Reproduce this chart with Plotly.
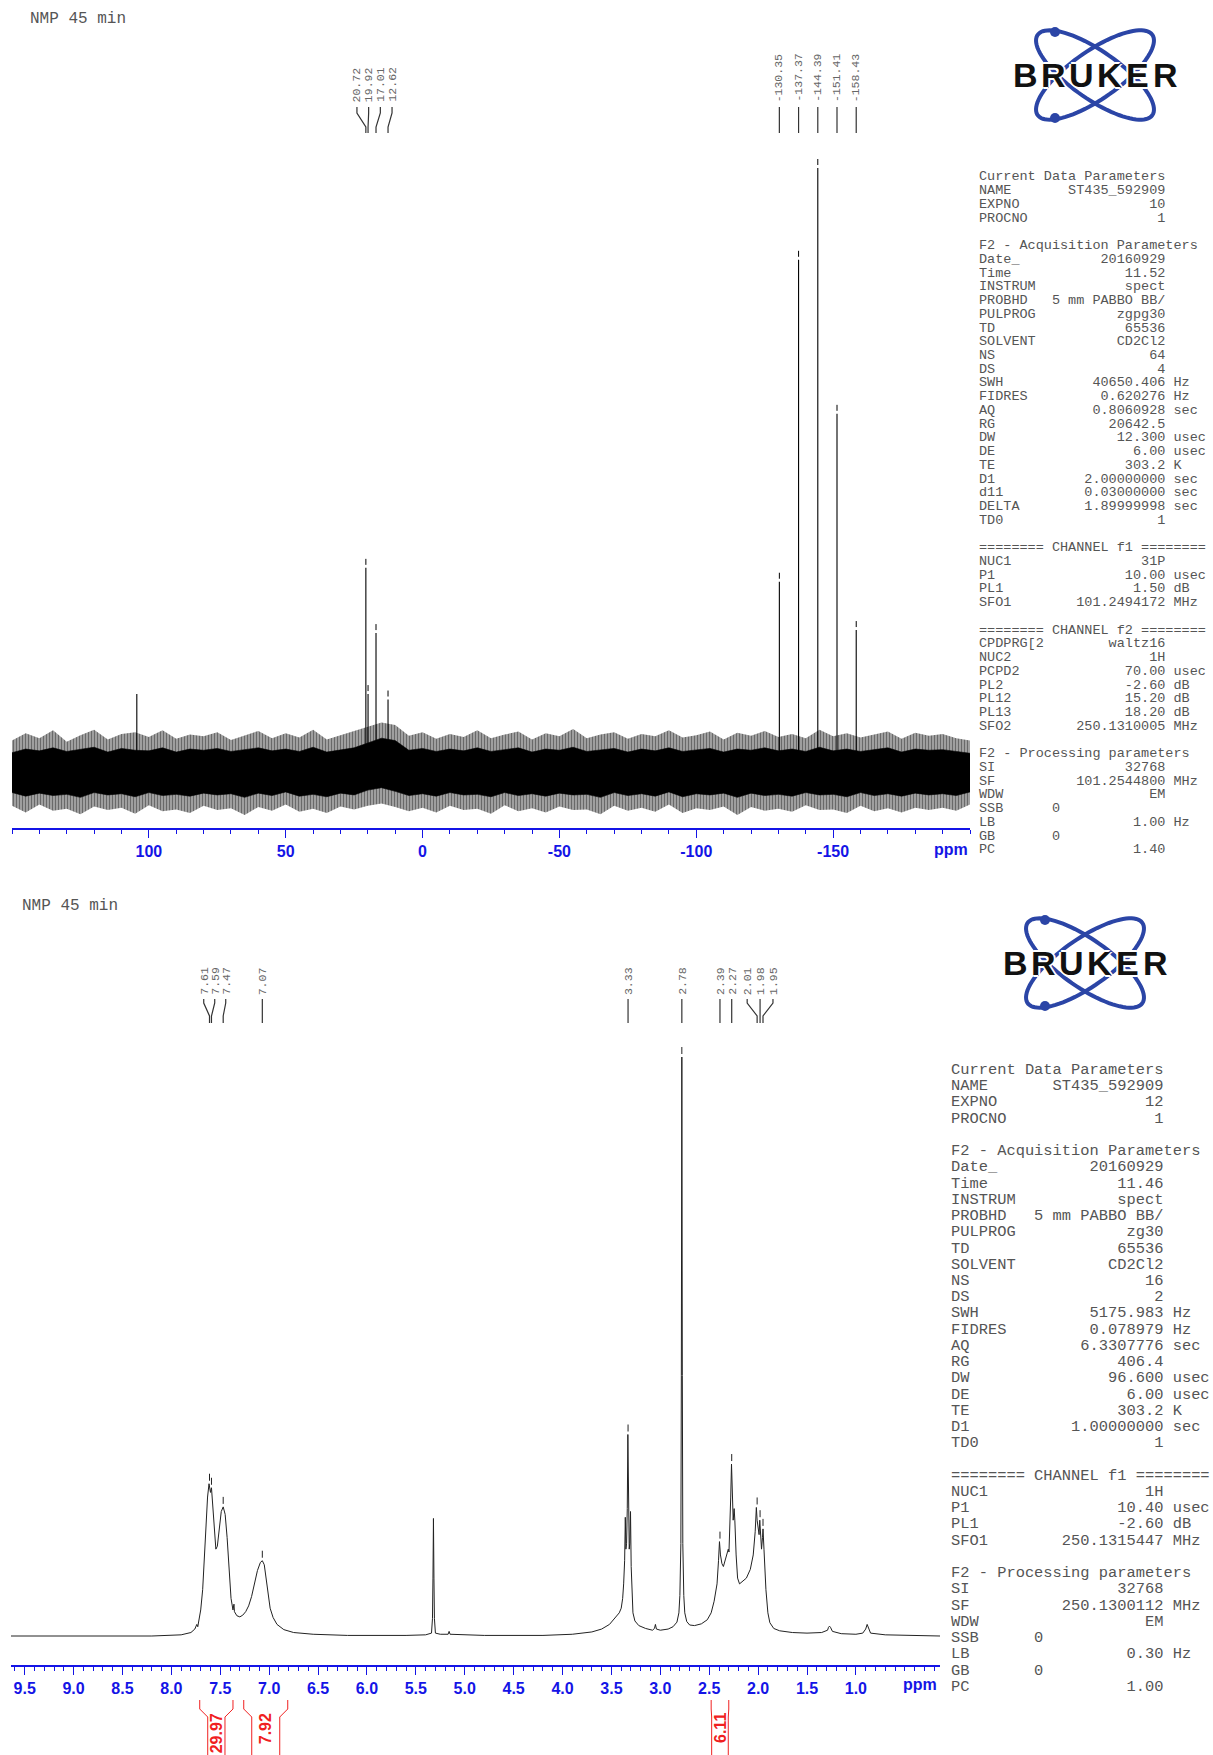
import numpy as np
import plotly.graph_objects as go

W, H = 1213, 1755
BLUE = "#1414e6"
RED = "#f02020"
GREY = "#555555"
MONO = "Liberation Mono, Courier New, monospace"
SANS = "Liberation Sans, Arial, sans-serif"


def xp(px):
    return px / W


def yp(py):
    return 1 - py / H


# ---------------- 31P{1H} spectrum (top) ----------------
p31_peak_ppm = [104.4, 20.72, 19.92, 17.01, 12.62, -130.35, -137.37, -144.39, -151.41, -158.43]
p31_peak_int = [12.9, 33.8, 12.9, 23.0, 12.0, 31.5, 84.8, 100.0, 59.3, 23.5]
p31_left_labels = [20.72, 19.92, 17.01, 12.62]
p31_right_labels = [-130.35, -137.37, -144.39, -151.41, -158.43]

noise_ppm = list(range(150, -201, -5))
noise_outer_hi = [5.2, 6.4, 5.6, 6.9, 5.0, 6.1, 7.0, 5.4, 6.3, 6.6, 5.8, 6.9, 5.5, 6.2, 5.9,
                  6.6, 5.3, 6.0, 6.8, 5.6, 6.4, 5.7, 7.0, 5.4, 6.1, 6.7, 7.4, 8.2, 7.8, 6.0,
                  6.6, 5.5, 6.3, 5.8, 6.9, 5.6, 6.2, 6.7, 5.4, 6.4, 5.9, 7.1, 5.6, 6.2, 6.6,
                  5.5, 6.3, 5.9, 6.9, 5.7, 6.1, 6.7, 5.4, 6.5, 6.0, 6.8, 5.8, 6.3, 5.6, 7.0,
                  5.9, 6.4, 5.7, 6.2, 6.7, 5.5, 6.5, 6.0, 6.3, 5.6, 5.2]
noise_outer_lo = [-5.6, -6.7, -5.4, -6.4, -6.1, -7.0, -5.7, -6.3, -5.9, -6.9, -5.5, -6.5, -6.2, -6.8, -5.6,
                  -6.3, -6.0, -7.1, -5.8, -6.4, -5.4, -6.6, -6.1, -6.8, -5.7, -6.2, -5.6, -5.2, -5.8, -6.5,
                  -5.9, -6.7, -5.6, -6.3, -6.1, -6.9, -5.5, -6.5, -6.0, -6.7, -5.7, -6.3, -6.2, -7.0, -5.6,
                  -6.4, -5.9, -6.6, -5.4, -6.8, -6.0, -6.3, -5.7, -7.1, -5.8, -6.4, -6.1, -6.6, -5.5, -6.3,
                  -6.2, -6.8, -5.6, -6.5, -6.0, -6.7, -5.9, -6.3, -5.9, -6.4, -5.4]
noise_core_hi = [3.2, 3.8, 3.5, 4.0, 3.4, 3.7, 4.1, 3.3, 3.9, 3.6, 3.5, 4.0, 3.3, 3.8, 3.6,
                 3.9, 3.4, 3.7, 4.0, 3.5, 3.8, 3.4, 4.1, 3.3, 3.7, 4.0, 4.8, 5.6, 5.2, 3.6,
                 3.9, 3.4, 3.8, 3.5, 4.0, 3.4, 3.7, 4.0, 3.3, 3.8, 3.6, 4.1, 3.4, 3.7, 3.9,
                 3.3, 3.8, 3.5, 4.0, 3.4, 3.7, 3.9, 3.3, 3.8, 3.6, 4.0, 3.5, 3.8, 3.4, 4.1,
                 3.5, 3.8, 3.4, 3.7, 4.0, 3.3, 3.8, 3.6, 3.7, 3.4, 3.1]
noise_core_lo = [-3.4, -4.0, -3.5, -3.9, -3.7, -4.2, -3.4, -3.8, -3.6, -4.1, -3.4, -3.9, -3.7, -4.0, -3.5,
                 -3.8, -3.6, -4.2, -3.5, -3.9, -3.3, -4.0, -3.7, -4.1, -3.5, -3.8, -3.0, -2.6, -3.2, -3.9,
                 -3.6, -4.0, -3.4, -3.8, -3.7, -4.1, -3.4, -3.9, -3.6, -4.0, -3.5, -3.8, -3.7, -4.2, -3.4,
                 -3.9, -3.6, -4.0, -3.3, -4.1, -3.6, -3.8, -3.5, -4.2, -3.5, -3.9, -3.7, -4.0, -3.4, -3.8,
                 -3.7, -4.1, -3.4, -3.9, -3.6, -4.0, -3.5, -3.8, -3.6, -3.9, -3.3]

# ---------------- 1H spectrum (bottom) ----------------
h1_ppm = [9.64, 8.20, 7.90, 7.80, 7.76, 7.74, 7.73, 7.72, 7.70, 7.68, 7.66, 7.645, 7.63, 7.615,
          7.60, 7.59, 7.575, 7.56, 7.545, 7.53, 7.51, 7.49, 7.47, 7.45, 7.43, 7.41, 7.39, 7.37,
          7.36, 7.355, 7.33, 7.30, 7.27, 7.24, 7.21, 7.18, 7.15, 7.12, 7.09, 7.07, 7.05, 7.03,
          7.01, 6.99, 6.96, 6.92, 6.85, 6.75, 6.55, 6.20, 5.60, 5.40, 5.34, 5.33, 5.325, 5.32,
          5.315, 5.31, 5.30, 5.25, 5.17, 5.16, 5.15, 4.80, 4.20, 3.90, 3.70, 3.60, 3.52, 3.46,
          3.42, 3.40, 3.385, 3.375, 3.365, 3.358, 3.352, 3.345, 3.338, 3.332, 3.326, 3.318, 3.312,
          3.305, 3.298, 3.29, 3.28, 3.26, 3.22, 3.15, 3.08, 3.06, 3.05, 3.04, 3.00, 2.92, 2.87,
          2.83, 2.81, 2.80, 2.79, 2.785, 2.78, 2.775, 2.77, 2.76, 2.75, 2.73, 2.70, 2.65, 2.58,
          2.52, 2.48, 2.45, 2.42, 2.405, 2.395, 2.385, 2.37, 2.355, 2.34, 2.32, 2.305, 2.298,
          2.29, 2.28, 2.272, 2.265, 2.255, 2.245, 2.238, 2.225, 2.21, 2.19, 2.16, 2.12, 2.08,
          2.05, 2.03, 2.018, 2.01, 2.00, 1.99, 1.983, 1.975, 1.965, 1.955, 1.95, 1.94, 1.93,
          1.92, 1.90, 1.88, 1.84, 1.78, 1.65, 1.50, 1.35, 1.29, 1.28, 1.27, 1.26, 1.24, 1.15,
          1.00, 0.93, 0.90, 0.885, 0.88, 0.87, 0.85, 0.70, 0.14]
h1_int = [0, 0, 0.2, 0.6, 1.2, 2.0, 1.6, 2.5, 4.5, 8, 14, 20, 24, 26.3,
          24.8, 25.6, 22, 17.5, 15, 15.5, 19, 21.5, 22.3, 21, 17, 11, 6.5, 4.5,
          5.5, 4.2, 3.5, 3.3, 3.6, 4.2, 5.2, 6.8, 9, 11.3, 12.7, 13, 12.3, 10,
          7, 4.8, 3.2, 2.0, 1.1, 0.6, 0.3, 0.1, 0.1, 0.2, 0.5, 3, 10, 20.3,
          10, 3, 0.5, 0.3, 0.3, 0.8, 0.3, 0.1, 0.1, 0.3, 0.7, 1.2, 2.0, 3.2,
          4.0, 4.8, 6.5, 9, 13, 20.5, 15, 16, 22, 34.8, 22, 15, 16,
          21.5, 12, 6.5, 4, 2.6, 1.8, 1.3, 1.0, 1.3, 2.0, 1.2, 1.0, 1.2, 1.6,
          2.4, 4, 7, 16, 45, 100, 45, 16, 7, 4, 2.5, 1.9, 1.8, 2.1,
          2.8, 4, 6, 9, 13, 16.3, 14, 12.5, 12, 13, 14, 15, 14.5,
          18, 24, 29.7, 24, 20, 22, 20, 14, 10, 9, 9.5, 10, 11.5,
          14, 18, 22.2, 20, 18, 17.5, 20, 18, 15, 17, 18.5, 15, 11,
          8, 4, 2.3, 1.3, 0.9, 0.6, 0.5, 0.6, 1.0, 1.5, 1.7, 1.5, 0.8, 0.4,
          0.3, 0.5, 1.2, 2.0, 1.8, 1.2, 0.5, 0.2, 0]

h1_lab_ppm = [7.61, 7.59, 7.47, 7.07, 3.33, 2.78, 2.39, 2.27, 2.01, 1.98, 1.95]
h1_lab_int = [26.3, 25.6, 22.3, 13.0, 34.8, 100.0, 16.3, 29.7, 22.2, 20.0, 18.5]
h1_groups = [[7.61, 7.59, 7.47], [7.07], [3.33], [2.78], [2.39], [2.27], [2.01, 1.98, 1.95]]

integral_from = [7.71, 7.26, 2.48]
integral_to = [7.37, 6.81, 2.30]
integral_vals = ["29.97", "7.92", "6.11"]

top_ticks = [150, 100, 50, 0, -50, -100, -150, -200]
top_ticktext = ["", "100", "50", "0", "-50", "-100", "-150", ""]
bot_ticks = [9.5, 9.0, 8.5, 8.0, 7.5, 7.0, 6.5, 6.0, 5.5, 5.0, 4.5, 4.0, 3.5, 3.0, 2.5, 2.0, 1.5, 1.0, 0.5]
bot_ticktext = ["9.5", "9.0", "8.5", "8.0", "7.5", "7.0", "6.5", "6.0", "5.5", "5.0", "4.5",
                "4.0", "3.5", "3.0", "2.5", "2.0", "1.5", "1.0", ""]

# acquisition / processing parameter listings
p31_params = [
    ("Current Data Parameters",), ("NAME", "ST435_592909"), ("EXPNO", "10"), ("PROCNO", "1"), (),
    ("F2 - Acquisition Parameters",), ("Date_", "20160929"), ("Time", "11.52"), ("INSTRUM", "spect"),
    ("PROBHD", "5 mm PABBO BB/"), ("PULPROG", "zgpg30"), ("TD", "65536"), ("SOLVENT", "CD2Cl2"),
    ("NS", "64"), ("DS", "4"), ("SWH", "40650.406", "Hz"), ("FIDRES", "0.620276", "Hz"),
    ("AQ", "0.8060928", "sec"), ("RG", "20642.5"), ("DW", "12.300", "usec"), ("DE", "6.00", "usec"),
    ("TE", "303.2", "K"), ("D1", "2.00000000", "sec"), ("d11", "0.03000000", "sec"),
    ("DELTA", "1.89999998", "sec"), ("TD0", "1"), (),
    ("======== CHANNEL f1 ========",), ("NUC1", "31P"), ("P1", "10.00", "usec"), ("PL1", "1.50", "dB"),
    ("SFO1", "101.2494172", "MHz"), (),
    ("======== CHANNEL f2 ========",), ("CPDPRG[2", "waltz16"), ("NUC2", "1H"), ("PCPD2", "70.00", "usec"),
    ("PL2", "-2.60", "dB"), ("PL12", "15.20", "dB"), ("PL13", "18.20", "dB"), ("SFO2", "250.1310005", "MHz"), (),
    ("F2 - Processing parameters",), ("SI", "32768"), ("SF", "101.2544800", "MHz"), ("WDW", "EM"),
    ("SSB", "0", None), ("LB", "1.00", "Hz"), ("GB", "0", None), ("PC", "1.40"),
]
h1_params = [
    ("Current Data Parameters",), ("NAME", "ST435_592909"), ("EXPNO", "12"), ("PROCNO", "1"), (),
    ("F2 - Acquisition Parameters",), ("Date_", "20160929"), ("Time", "11.46"), ("INSTRUM", "spect"),
    ("PROBHD", "5 mm PABBO BB/"), ("PULPROG", "zg30"), ("TD", "65536"), ("SOLVENT", "CD2Cl2"),
    ("NS", "16"), ("DS", "2"), ("SWH", "5175.983", "Hz"), ("FIDRES", "0.078979", "Hz"),
    ("AQ", "6.3307776", "sec"), ("RG", "406.4"), ("DW", "96.600", "usec"), ("DE", "6.00", "usec"),
    ("TE", "303.2", "K"), ("D1", "1.00000000", "sec"), ("TD0", "1"), (),
    ("======== CHANNEL f1 ========",), ("NUC1", "1H"), ("P1", "10.40", "usec"), ("PL1", "-2.60", "dB"),
    ("SFO1", "250.1315447", "MHz"), (),
    ("F2 - Processing parameters",), ("SI", "32768"), ("SF", "250.1300112", "MHz"), ("WDW", "EM"),
    ("SSB", "0", None), ("LB", "0.30", "Hz"), ("GB", "0", None), ("PC", "1.00"),
]


def param_line(entry):
    if len(entry) == 0:
        return ""
    if len(entry) == 1:
        return entry[0]
    name, value = entry[0], entry[1]
    if len(entry) == 3 and entry[2] is None:
        return name.ljust(9) + value
    s = name + value.rjust(23 - len(name))
    if len(entry) == 3:
        s += " " + entry[2]
    return s


# ---------------- geometry of the two panels (pixels) ----------------
T_X0, T_X1, T_Y0, T_Y1 = 12, 970, 150, 828
T_BASE, T_FULL = 772, 168
B_X0, B_X1, B_Y0, B_Y1 = 11, 940, 1040, 1665
B_BASE, B_FULL = 1636, 1057

t_upp = 100.0 / (T_BASE - T_FULL)
b_upp = 100.0 / (B_BASE - B_FULL)
t_yr = [-(T_Y1 - T_BASE) * t_upp, (T_BASE - T_Y0) * t_upp]
b_yr = [-(B_Y1 - B_BASE) * b_upp, (B_BASE - B_Y0) * b_upp]
t_ppm_per_px = 350.0 / (T_X1 - T_X0)
b_ppm_per_px = 9.5 / (B_X1 - B_X0)

fig = go.Figure()

# noise band of the 31P trace: hairy grey fringe of spikes around a dense black core
fig.add_trace(go.Scatter(x=noise_ppm, y=noise_outer_hi, mode="lines",
                         line=dict(color="rgba(0,0,0,0)", width=0), xaxis="x", yaxis="y", hoverinfo="skip"))
fig.add_trace(go.Scatter(x=noise_ppm, y=noise_outer_lo, mode="lines", fill="tonexty",
                         fillcolor="#9a9a9a",
                         fillpattern=dict(shape="|", fgcolor="#222222", bgcolor="#b0b0b0", size=3, solidity=0.5),
                         line=dict(color="rgba(0,0,0,0)", width=0),
                         xaxis="x", yaxis="y", hoverinfo="skip"))
fig.add_trace(go.Scatter(x=noise_ppm, y=noise_core_hi, mode="lines",
                         line=dict(color="#000000", width=0.6), xaxis="x", yaxis="y", hoverinfo="skip"))
fig.add_trace(go.Scatter(x=noise_ppm, y=noise_core_lo, mode="lines", fill="tonexty",
                         fillcolor="#000000", line=dict(color="#000000", width=0.6),
                         xaxis="x", yaxis="y", hoverinfo="skip"))

# 31P lines
sx, sy = [], []
for p, h in zip(p31_peak_ppm, p31_peak_int):
    sx += [p, p, None]
    sy += [0, h, None]
fig.add_trace(go.Scatter(x=sx, y=sy, mode="lines", line=dict(color="#000000", width=1.1),
                         xaxis="x", yaxis="y", hoverinfo="skip"))

# peak-pick markers above the 31P lines
mx, my = [], []
for p, h in zip(p31_peak_ppm, p31_peak_int):
    if p in p31_left_labels or p in p31_right_labels:
        mx += [p, p, None]
        my += [h + 3 * t_upp, h + 9 * t_upp, None]
fig.add_trace(go.Scatter(x=mx, y=my, mode="lines", line=dict(color="#000000", width=1),
                         xaxis="x", yaxis="y", hoverinfo="skip"))

# 1H trace
fig.add_trace(go.Scatter(x=h1_ppm, y=h1_int, mode="lines", line=dict(color="#222222", width=1),
                         xaxis="x2", yaxis="y2", hoverinfo="skip"))
mx, my = [], []
for p, h in zip(h1_lab_ppm, h1_lab_int):
    mx += [p, p, None]
    my += [h + 3 * b_upp, h + 10 * b_upp, None]
fig.add_trace(go.Scatter(x=mx, y=my, mode="lines", line=dict(color="#222222", width=1),
                         xaxis="x2", yaxis="y2", hoverinfo="skip"))

shapes = []
annotations = []


# ---- peak labels with connector lines ----
def label_group(peaks, pitch_px, ppm_per_px, xref, y_text, y_a, y_b, y_c, y_d, size):
    centre = sum(peaks) / len(peaks)
    n = len(peaks)
    for i, p in enumerate(peaks):
        lx = centre + ((n - 1) / 2 - i) * pitch_px * ppm_per_px if n > 1 else p
        shapes.append(dict(type="path", xref=xref, yref="paper",
                           path=f"M {lx},{yp(y_a)} L {lx},{yp(y_b)} L {p},{yp(y_c)} L {p},{yp(y_d)}",
                           line=dict(color="#333333", width=1.2)))
        annotations.append(dict(x=lx, y=yp(y_text), xref=xref, yref="paper", text=f"{p:.2f}",
                                showarrow=False, textangle=-90, xanchor="center", yanchor="bottom",
                                font=dict(family=MONO, size=size, color="#666666")))


label_group(p31_left_labels, 11.7, t_ppm_per_px, "x", 104, 107, 113, 127, 133, 11.5)
for p in p31_right_labels:
    label_group([p], 0, t_ppm_per_px, "x", 104, 107, 113, 127, 133, 11.5)
for g in h1_groups:
    label_group(g, 11.0 if g[0] > 5 else 12.9, b_ppm_per_px, "x2", 997, 999, 1003, 1016, 1023, 11.5)

# ---- integral brackets ----
for a, b, v in zip(integral_from, integral_to, integral_vals):
    d = 8 * b_ppm_per_px if (a - b) > 0.2 else 0.5 * b_ppm_per_px
    for edge, inner in ((a, a - d), (b, b + d)):
        shapes.append(dict(type="path", xref="x2", yref="paper",
                           path=f"M {edge},{yp(1700)} L {edge},{yp(1709)} L {inner},{yp(1717)} L {inner},{yp(1760)}",
                           line=dict(color=RED, width=1)))
    annotations.append(dict(x=(a + b) / 2, y=yp(1711), xref="x2", yref="paper", text=v,
                            showarrow=False, textangle=-90, xanchor="center", yanchor="top",
                            font=dict(family=SANS, size=16, color=RED, weight="bold")))

# ---- titles ----
annotations.append(dict(x=xp(28), y=yp(19), xref="paper", yref="paper", text="NMP 45 min",
                        showarrow=False, xanchor="left", yanchor="middle",
                        font=dict(family=MONO, size=16, color=GREY)))
annotations.append(dict(x=xp(20), y=yp(906), xref="paper", yref="paper", text="NMP 45 min",
                        showarrow=False, xanchor="left", yanchor="middle",
                        font=dict(family=MONO, size=16, color=GREY)))

# ---- "ppm" axis captions ----
annotations.append(dict(x=xp(951), y=yp(849), xref="paper", yref="paper", text="ppm",
                        showarrow=False, xanchor="center", yanchor="middle",
                        font=dict(family=SANS, size=16, color=BLUE, weight="bold")))
annotations.append(dict(x=xp(920), y=yp(1684), xref="paper", yref="paper", text="ppm",
                        showarrow=False, xanchor="center", yanchor="middle",
                        font=dict(family=SANS, size=16, color=BLUE, weight="bold")))


# ---- parameter listings ----
def param_block(entries, x0, y0, pitch, size):
    for i, e in enumerate(entries):
        s = param_line(e)
        if not s:
            continue
        annotations.append(dict(x=xp(x0), y=yp(y0 + i * pitch), xref="paper", yref="paper",
                                text=s.replace(" ", "\u00a0"), showarrow=False,
                                xanchor="left", yanchor="middle",
                                font=dict(family=MONO, size=size, color=GREY)))


param_block(p31_params, 977, 177, 13.73, 13.5)
param_block(h1_params, 949, 1070, 16.23, 15.4)

# ---- Bruker logos ----
LOGO_BLUE = "#2b45a6"


def logo(cx, cy, scale):
    a, b = 70 * scale, 24 * scale
    t = np.linspace(0, 2 * np.pi, 90)
    for ang in (np.deg2rad(35), np.deg2rad(-35)):
        ex = cx + a * np.cos(t) * np.cos(ang) - b * np.sin(t) * np.sin(ang)
        ey = cy + a * np.cos(t) * np.sin(ang) + b * np.sin(t) * np.cos(ang)
        path = "M " + " L ".join(f"{xp(u):.5f},{yp(v):.5f}" for u, v in zip(ex, ey)) + " Z"
        shapes.append(dict(type="path", xref="paper", yref="paper", path=path,
                           line=dict(color=LOGO_BLUE, width=4)))
    for dx, dy in ((-40, -43), (-40, 43)):
        r = 5
        shapes.append(dict(type="circle", xref="paper", yref="paper",
                           x0=xp(cx + dx * scale - r), x1=xp(cx + dx * scale + r),
                           y0=yp(cy + dy * scale + r), y1=yp(cy + dy * scale - r),
                           fillcolor=LOGO_BLUE, line=dict(width=0)))
    letters = "BRUKER"
    width = 168 * scale
    step = width / len(letters)
    for i, ch in enumerate(letters):
        annotations.append(dict(x=xp(cx - width / 2 + step * (i + 0.5)), y=yp(cy), xref="paper", yref="paper",
                                text=ch, showarrow=False, xanchor="center", yanchor="middle",
                                font=dict(family=SANS, size=34 * scale, color="#111111", weight="bold",
                                          shadow="2px 0 0 #fff, -2px 0 0 #fff, 0 2px 0 #fff, 0 -2px 0 #fff")))


logo(1095, 75, 1.0)
logo(1085, 963, 1.0)

tickfont = dict(family=SANS, size=16, color=BLUE, weight="bold")
fig.update_layout(
    width=W, height=H, margin=dict(l=0, r=0, t=0, b=0),
    paper_bgcolor="white", plot_bgcolor="white", showlegend=False,
    xaxis=dict(domain=[xp(T_X0), xp(T_X1)], range=[150, -200], anchor="y",
               showline=True, linecolor=BLUE, linewidth=1.5, ticks="outside", ticklen=8,
               tickwidth=1, tickcolor=BLUE, tickmode="array", tickvals=top_ticks, ticktext=top_ticktext,
               tickfont=tickfont, showgrid=False, zeroline=False,
               minor=dict(ticks="outside", ticklen=4, tickwidth=1, tickcolor=BLUE,
                          tickmode="array", tickvals=list(range(150, -201, -10)), showgrid=False)),
    yaxis=dict(domain=[yp(T_Y1), yp(T_Y0)], range=t_yr, visible=False),
    xaxis2=dict(domain=[xp(B_X0), xp(B_X1)], range=[9.64, 0.14], anchor="y2",
                showline=True, linecolor=BLUE, linewidth=1.5, ticks="outside", ticklen=8,
                tickwidth=1, tickcolor=BLUE, tickmode="array", tickvals=bot_ticks, ticktext=bot_ticktext,
                tickfont=tickfont, showgrid=False, zeroline=False,
                minor=dict(ticks="outside", ticklen=4, tickwidth=1, tickcolor=BLUE,
                           tickmode="array", tickvals=[round(9.6 - 0.1 * i, 1) for i in range(95)],
                           showgrid=False)),
    yaxis2=dict(domain=[yp(B_Y1), yp(B_Y0)], range=b_yr, visible=False),
    shapes=shapes, annotations=annotations,
)

fig.write_html("out.html")
